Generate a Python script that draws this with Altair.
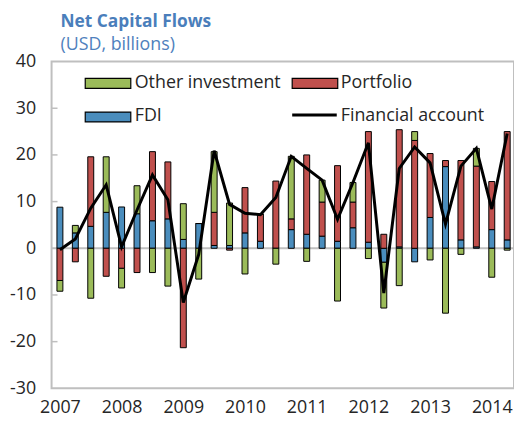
import altair as alt
import pandas as pd

years = [2007, 2008, 2009, 2010, 2011, 2012, 2013, 2014]
quarters = [f"{y}Q{q}" for y in years for q in range(1, 5)][:30]

fdi = [8.8, 3.3, 4.7, 7.7, 8.85, 7.4, 5.9, 6.3, 1.9, 5.3, 0.6, 0.6, 3.3, 1.5, 0.0,
       4.0, 3.0, 2.6, 1.5, 4.4, 1.3, -3.0, 0.3, -2.9, 6.6, 17.5, 1.8, 0.3, 4.0, 1.8]
portfolio = [-6.9, -2.9, 14.9, -6.0, -4.3, -5.2, 14.8, 12.2, -21.3, 0.0, 7.1, -0.4, 9.7, 5.8, 14.4,
             2.3, 17.0, 7.3, 16.2, 5.5, 23.7, 3.0, 25.1, 23.1, 13.7, 1.3, 17.0, 17.3, 10.3, 23.2]
other = [-2.3, 1.6, -10.7, 11.9, -4.2, 6.0, -5.2, -8.1, 7.65, -6.6, 13.0, 9.1, -5.5, 0.0, -3.4,
         13.4, -2.8, 4.7, -11.3, 4.2, -2.2, -9.8, -8.0, 1.9, -2.5, -13.9, -1.3, 3.8, -6.2, -0.4]
financial = [-0.3, 2.0, 8.6, 13.6, 0.3, 8.2, 15.7, 10.4, -11.6, -1.3, 20.9, 9.4, 7.5, 7.2, 10.9,
             19.7, 17.1, 14.6, 6.2, 14.1, 22.6, -9.6, 17.1, 21.7, 18.3, 5.2, 17.6, 21.4, 8.4, 24.6]

series = ["FDI", "Portfolio", "Other investment"]
colors = ["#4A8DBD", "#C0504D", "#9BBB59"]
y_ticks = [-30, -20, -10, 0, 10, 20, 30, 40]

FONT = "Open Sans"
GRID = "#BFBFBF"
FS = 18

rows = []
for i, q in enumerate(quarters):
    for k, (name, vals) in enumerate(zip(series, [fdi, portfolio, other])):
        rows.append({"i": i, "quarter": q, "series": name, "ord": k, "value": vals[i]})
bars_df = pd.DataFrame(rows)
line_df = pd.DataFrame({"i": list(range(len(quarters))), "quarter": quarters, "value": financial})

xscale = alt.Scale(domain=[-0.22, 29.12], nice=False, zero=False)
yscale = alt.Scale(domain=[-30, 40], nice=False)

label_expr = "[" + ",".join(f"'{y}'" for y in years) + "][round(datum.value/4)]"

x_enc = alt.X("i:Q", scale=xscale, title=None,
              axis=alt.Axis(values=[4 * k for k in range(len(years))], labelExpr=label_expr,
                            domain=False, ticks=False, grid=False, labelPadding=10,
                            labelFontSize=FS, labelFont=FONT, labelColor="#262626",
                            labelOverlap=False, labelFlush=False))

zero = alt.Chart(pd.DataFrame({"z": [0]})).mark_rule(color=GRID, strokeWidth=2).encode(
    y=alt.Y("z:Q", scale=yscale))

tick_df = pd.DataFrame({"v": [t for t in y_ticks if t not in (0, -30, 40)]})
inticks = alt.Chart(tick_df).mark_rule(color=GRID, strokeWidth=1.5).encode(
    y=alt.Y("v:Q", scale=yscale), x=alt.value(0), x2=alt.value(6))

bars = alt.Chart(bars_df).mark_bar(size=6, stroke="black", strokeWidth=1).encode(
    x=x_enc,
    y=alt.Y("value:Q", scale=yscale, stack="zero", title=None,
            axis=alt.Axis(values=y_ticks, labelExpr="'' + datum.value", domain=False,
                          ticks=False, grid=False, labelPadding=16, labelFontSize=FS,
                          labelFont=FONT, labelColor="#262626")),
    color=alt.Color("series:N", scale=alt.Scale(domain=series, range=colors), legend=None),
    order=alt.Order("ord:Q", sort="ascending"),
)

line = alt.Chart(line_df).mark_line(color="black", strokeWidth=3).encode(
    x=alt.X("i:Q", scale=xscale), y=alt.Y("value:Q", scale=yscale))

# manual legend (pixel positions inside the plot area)
def swatch(x0, y0, col):
    return alt.Chart(pd.DataFrame({"a": [0]})).mark_rect(color=col, stroke="black", strokeWidth=1.2).encode(
        x=alt.value(x0), x2=alt.value(x0 + 46), y=alt.value(y0), y2=alt.value(y0 + 10))

def label(x0, y0, txt):
    return alt.Chart(pd.DataFrame({"t": [txt]})).mark_text(
        align="left", baseline="middle", font=FONT, fontSize=FS, color="#262626").encode(
        x=alt.value(x0), y=alt.value(y0), text="t:N")

leg_line = alt.Chart(pd.DataFrame({"a": [0]})).mark_rule(color="black", strokeWidth=3).encode(
    x=alt.value(243), x2=alt.value(288), y=alt.value(54))

legend = [
    swatch(34, 17, colors[2]), label(84, 22, "Other investment"),
    swatch(243, 17, colors[1]), label(292, 22, "Portfolio"),
    swatch(34, 51, colors[0]), label(84, 55, "FDI"),
    leg_line, label(292, 55, "Financial account"),
]

chart = alt.layer(zero, inticks, bars, line, *legend).properties(
    width=467, height=330,
    autosize=alt.AutoSizeParams(type="none"),
    padding={"left": 44, "top": 52, "right": 0, "bottom": 40},
    title=alt.TitleParams(
        "Net Capital Flows", subtitle="(USD, billions)", anchor="start", frame="group",
        dx=9, offset=-1, font=FONT, fontSize=17.5, fontWeight="bold", color="#4A7EBB",
        subtitleFont=FONT, subtitleFontSize=18, subtitleColor="#4F81BD", subtitlePadding=5),
).configure_view(stroke=GRID, strokeWidth=2)

chart.save("out.html", embed_options={"renderer": "svg", "actions": False})
